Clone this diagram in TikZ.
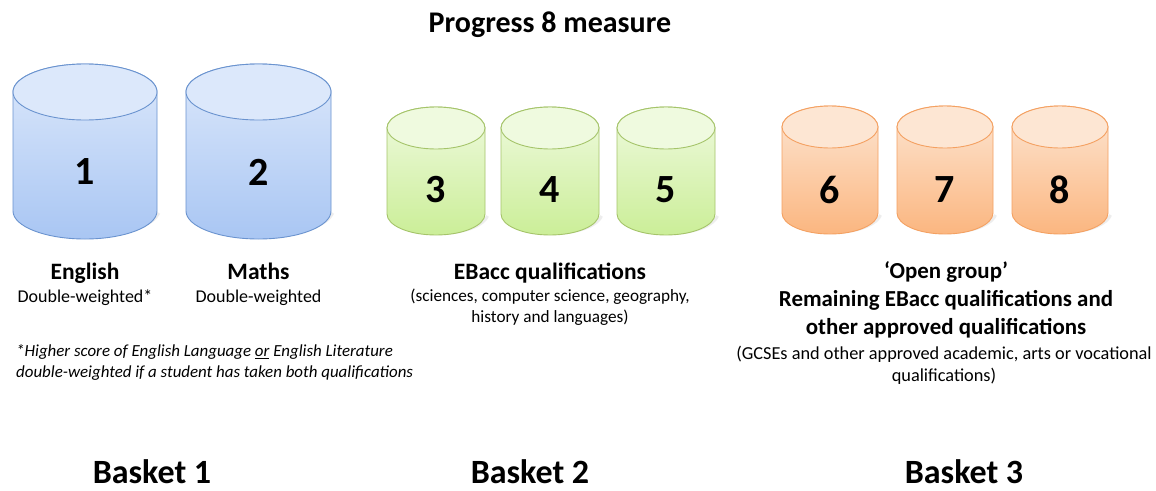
\documentclass[tikz,border=0pt]{standalone}
\usepackage{fontspec}
\setmainfont{Carlito}
\usetikzlibrary{positioning}
\definecolor{bluetop}{HTML}{DCE8FB}
\definecolor{bluebot}{HTML}{A9C6F3}
\definecolor{blueline}{HTML}{6A93CF}
\definecolor{greentop}{HTML}{EFFADF}
\definecolor{greenbot}{HTML}{CBEE98}
\definecolor{greenline}{HTML}{A5C46A}
\definecolor{orangetop}{HTML}{FDE6D3}
\definecolor{orangebot}{HTML}{FBB680}
\definecolor{orangeline}{HTML}{F4A162}
\newcommand\mycyl[8]{% cx, rx, ytop, ybot, ry, topcol, botcol, linecol
  \path[draw=black!20, line width=3pt, opacity=0.35] (#1-#2+4,-#4-2) arc[start angle=190,end angle=350,x radius=#2pt,y radius=#5pt];
  \path[draw=#8, line width=0.9pt, top color=#6, bottom color=#7]
    (#1-#2,-#3) -- (#1-#2,-#4) arc[start angle=180,end angle=360,x radius=#2pt,y radius=#5pt]
    -- (#1+#2,-#3) arc[start angle=0,end angle=180,x radius=#2pt,y radius=#5pt] -- cycle;
  \path[draw=#8, line width=0.9pt, fill=#6] (#1,-#3) ellipse[x radius=#2pt,y radius=#5pt];
}
\tikzset{
  num/.style={font=\fontsize{40}{44}\selectfont\bfseries, inner sep=0pt},
  head/.style={font=\fontsize{23.5}{28}\selectfont\bfseries, inner sep=0pt, align=center},
  sub/.style={font=\fontsize{18}{21}\selectfont, inner sep=0pt, align=center},
  note/.style={font=\fontsize{16.9}{21}\selectfont\itshape, inner sep=0pt, align=left},
  basket/.style={font=\fontsize{34}{36}\selectfont\bfseries, inner sep=0pt, anchor=base},
}
\begin{document}
\begin{tikzpicture}[x=1pt,y=1pt]
\useasboundingbox (0,0) rectangle (1156,-490);
\fill[white] (0,0) rectangle (1156,-490);
% title
\node[head, font=\fontsize{30}{32}\selectfont\bfseries] (title) at (550,-25) {Progress 8 measure};
% cylinders
\mycyl{85}{72}{92}{211}{28}{bluetop}{bluebot}{blueline}
\mycyl{258.5}{72.5}{92}{211}{28}{bluetop}{bluebot}{blueline}
\mycyl{436}{49}{128}{214}{21}{greentop}{greenbot}{greenline}
\mycyl{550}{49}{128}{214}{21}{greentop}{greenbot}{greenline}
\mycyl{666}{49}{128}{214}{21}{greentop}{greenbot}{greenline}
\mycyl{830}{48}{127}{213}{21}{orangetop}{orangebot}{orangeline}
\mycyl{945}{48}{127}{213}{21}{orangetop}{orangebot}{orangeline}
\mycyl{1060}{48}{127}{213}{21}{orangetop}{orangebot}{orangeline}
% numbers
\node[num] (n1) at (85,-172) {1};
\node[num] (n2) at (258.5,-172) {2};
\node[num] (n3) at (436,-190) {3};
\node[num] (n4) at (550,-190) {4};
\node[num] (n5) at (666,-190) {5};
\node[num] (n6) at (830,-190) {6};
\node[num] (n7) at (945,-190) {7};
\node[num] (n8) at (1060,-190) {8};
% basket 1 texts
\node[head, anchor=base] (eng) at (85,-279) {English};
\node[sub, anchor=base] (engsub) at (85,-302) {Double-weighted*};
\node[head, anchor=base] (math) at (258.5,-279) {Maths};
\node[sub, anchor=base] (mathsub) at (258.5,-302) {Double-weighted};
\node[note, anchor=west] (note1) at (16,-352) {*Higher score of English Language \underline{or} English Literature};
\node[note, anchor=west] (note2) at (16,-373) {double-weighted if a student has taken both qualifications};
% basket 2 texts
\node[head, anchor=base] (ebacc) at (550,-279) {EBacc qualifications};
\node[sub, font=\fontsize{17.2}{21}\selectfont] (ebaccsub) at (550,-307) {(sciences, computer science, geography,\\history and languages)};
% basket 3 texts
\node[head, font=\fontsize{22.9}{28}\selectfont\bfseries] (open) at (946,-300) {‘Open group’\\Remaining EBacc qualifications and\\other approved qualifications};
\node[sub, font=\fontsize{18.3}{22}\selectfont] (opensub) at (944,-365) {(GCSEs and other approved academic, arts or vocational\\qualifications)};
% baskets
\node[basket] (b1) at (152,-483) {Basket 1};
\node[basket] (b2) at (530,-483) {Basket 2};
\node[basket] (b3) at (964,-483) {Basket 3};
\end{tikzpicture}
\end{document}
